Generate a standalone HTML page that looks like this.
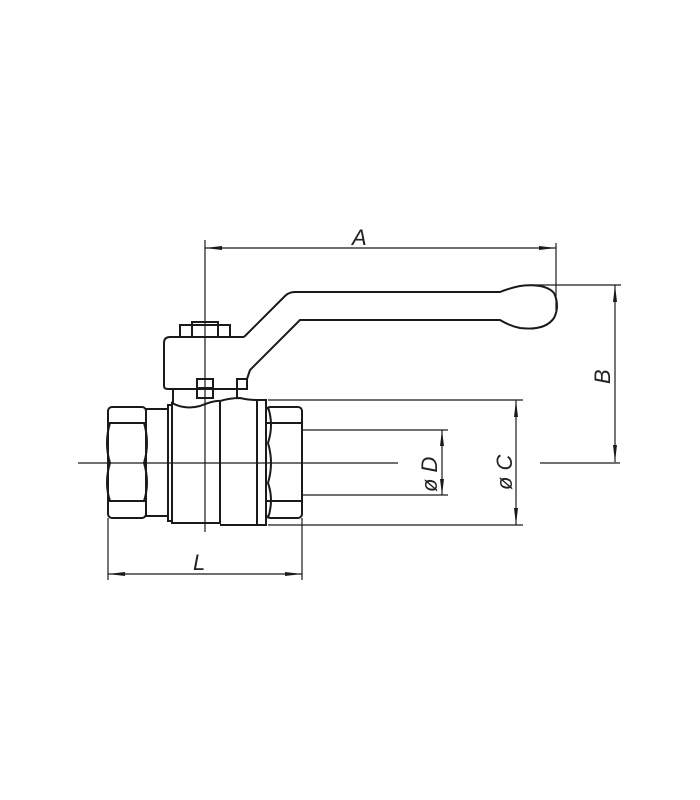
<!DOCTYPE html>
<html><head><style>
html,body{margin:0;padding:0;background:#fff;}
svg{display:block;}
text{font-family:"Liberation Sans",sans-serif;font-style:italic;font-size:22px;fill:#222;}
</style></head><body>
<svg width="700" height="800" viewBox="0 0 700 800" xmlns="http://www.w3.org/2000/svg">
<g fill="none" stroke="#1a1a1a" stroke-width="1.2">
<!-- centerlines -->
<line x1="78" y1="463" x2="398" y2="463"/>
<line x1="540" y1="463" x2="620" y2="463"/>
<line x1="205" y1="240" x2="205" y2="532"/>
<!-- extension lines -->
<line x1="268" y1="400" x2="523" y2="400"/>
<line x1="268" y1="525" x2="523" y2="525"/>
<line x1="302" y1="430" x2="448" y2="430"/>
<line x1="302" y1="495" x2="448" y2="495"/>
<line x1="530" y1="285" x2="621" y2="285"/>
<line x1="556" y1="243" x2="556" y2="310"/>
<line x1="108" y1="518" x2="108" y2="580"/>
<line x1="302" y1="518" x2="302" y2="580"/>
<!-- dim lines -->
<line x1="205" y1="248" x2="556" y2="248"/>
<line x1="615" y1="285" x2="615" y2="462"/>
<line x1="516" y1="400" x2="516" y2="525"/>
<line x1="442" y1="430" x2="442" y2="495"/>
<line x1="108" y1="574" x2="302" y2="574"/>
</g>
<g fill="#1a1a1a">
<polygon points="205,248 222,246 222,250"/>
<polygon points="556,248 539,246 539,250"/>
<polygon points="615,285 613,302 617,302"/>
<polygon points="615,462 613,445 617,445"/>
<polygon points="516,400 514,417 518,417"/>
<polygon points="516,525 514,508 518,508"/>
<polygon points="442,430 440,446 444,446"/>
<polygon points="442,495 440,479 444,479"/>
<polygon points="108,574 125,572 125,576"/>
<polygon points="302,574 285,572 285,576"/>
</g>
<g fill="none" stroke="#1a1a1a" stroke-width="2">
<!-- left nut -->
<rect x="108" y="407" width="38" height="111" rx="4"/>
<line x1="108" y1="423" x2="146" y2="423"/>
<line x1="108" y1="501" x2="146" y2="501"/>
<path d="M110,423 Q104,443 110,463 Q104,483 110,501"/>
<path d="M144,423 Q150,443 144,463 Q150,483 144,501"/>
<rect x="146" y="409" width="22" height="107"/>
<rect x="168" y="405" width="4" height="116"/>
<!-- body -->
<path d="M172,403 Q185,410 200,406 Q215,400 220,401 L220,523 L172,523 Z"/>
<path d="M220,401 Q230,398 240,398 Q248,400 257,400 L257,525 L220,525"/>
<rect x="257" y="400" width="9" height="125"/>
<!-- right nut -->
<rect x="266" y="407" width="36" height="111" rx="4"/>
<line x1="266" y1="423" x2="302" y2="423"/>
<line x1="266" y1="501" x2="302" y2="501"/>
<path d="M268,407 Q274,425 268,443 Q274,463 268,483 Q274,500 268,518"/>
<!-- stem -->
<line x1="173" y1="389" x2="173" y2="404"/>
<line x1="237" y1="389" x2="237" y2="398"/>
<!-- handle block -->
<path d="M244,337 L170,337 Q164,337 164,343 L164,386 Q164,389 168,389 L247,389"/>
<rect x="180" y="325" width="50" height="12"/>
<rect x="192" y="322" width="26" height="15"/>
<rect x="197" y="379" width="16" height="19"/>
<line x1="197" y1="388" x2="213" y2="388"/>
<rect x="237" y="379" width="10" height="10"/>
<!-- handle arm -->
<path d="M244,337 L285,296 Q289,292 295,292 L500,292 Q510,288 520,286 Q545,283 554,293 Q560,306 554,318 Q545,331 520,328 Q510,326 500,320 L300,320 L250,370 L247,379"/>
</g>
<text x="352" y="245">A</text>
<text x="193" y="570">L</text>
<text transform="translate(610,384) rotate(-90)">B</text>
<text transform="translate(437,492) rotate(-90)">ø D</text>
<text transform="translate(512,490) rotate(-90)">ø C</text>
</svg>
</body></html>
